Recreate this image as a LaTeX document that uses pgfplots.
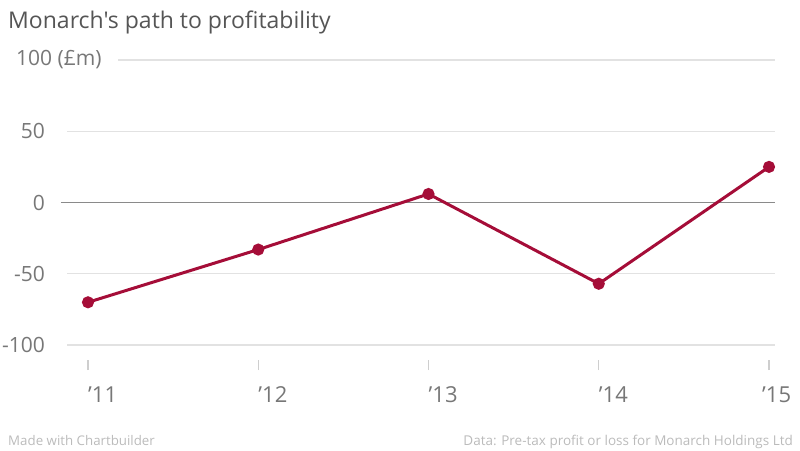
\documentclass[border=0pt]{standalone}
\usepackage{pgfplots}
\pgfplotsset{compat=1.18}
\usepackage{fontspec}
\setmainfont{Open Sans}[Ligatures=TeXOff]
\definecolor{linered}{HTML}{A50D38}
\definecolor{gridgray}{HTML}{E2E2E2}
\definecolor{zerogray}{HTML}{8A8A8A}
\definecolor{labelgray}{HTML}{777777}
\definecolor{titlegray}{HTML}{555555}
\definecolor{footgray}{HTML}{BBBBBB}
\begin{document}
\begin{tikzpicture}[x=1pt,y=1pt]
\useasboundingbox (0,0) rectangle (800,-450);
\node[anchor=base west, inner sep=0pt, text=titlegray, font=\fontsize{23}{27}\selectfont] at (8,-28) {Monarch's path to profitability};
\begin{axis}[
  at={(67pt,-360pt)}, anchor=south west,
  scale only axis, width=708pt, height=300pt,
  xmin=-0.1233, xmax=4.0352, ymin=-110.5, ymax=100,
  axis lines=left, axis line style={draw=none},
  xtick={0,1,2,3,4}, xticklabels={’11,’12,’13,’14,{\hspace*{-7pt}’15}},
  xtick pos=bottom, tick align=outside, major tick length=10pt,
  xtick style={draw=gridgray!80!gray, line width=1.2pt},
  xticklabel style={anchor=base west, inner sep=0pt, yshift=-32pt, text=labelgray, font=\fontsize{22}{26}\selectfont},
  ytick={-100,-50,0,50}, yticklabels={-100,-50,0,50},
  ytick style={draw=none},
  yticklabel style={anchor=east, inner sep=0pt, xshift=-12pt, text=labelgray, font=\fontsize{21}{25}\selectfont},
  extra y ticks={100}, extra y tick labels={100 (£m)},
  extra y tick style={grid=none, yticklabel style={anchor=west, xshift=-29pt}},
  ymajorgrids, grid style={gridgray, line width=1.3pt},
  clip=false,
]
\draw[gridgray, line width=1.3pt] (axis cs:0.176,100) -- (axis cs:4.0352,100);
\draw[zerogray, line width=1.3pt] (axis cs:-0.16,0) -- (axis cs:4.0352,0);
\addplot[linered, line width=3pt, mark=*, mark size=4.5pt, mark options={fill=linered, draw=linered}] coordinates {
  (0,-70) (1,-33) (2,6) (3,-57) (4,25)
};
\end{axis}
\node[anchor=base west, inner sep=0pt, text=footgray, font=\fontsize{13.3}{15}\selectfont] at (8,-445) {Made with Chartbuilder};
\node[anchor=base east, inner sep=0pt, text=footgray, font=\fontsize{13.5}{15}\selectfont] at (793,-445) {Data: Pre-tax profit or loss for Monarch Holdings Ltd};
\end{tikzpicture}
\end{document}
